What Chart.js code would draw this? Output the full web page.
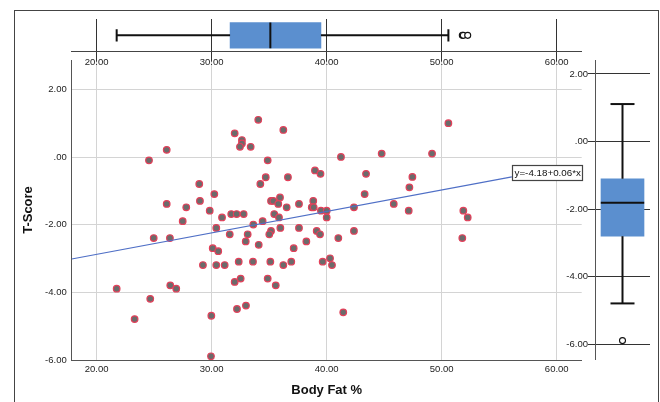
<!DOCTYPE html>
<html><head><meta charset="utf-8">
<script src="https://cdn.jsdelivr.net/npm/chart.js@4.4.1/dist/chart.umd.min.js"></script>
<style>
html,body{margin:0;padding:0;background:#fff;width:660px;height:402px;overflow:hidden;}
#frame{position:absolute;left:14px;top:10px;width:643px;height:420px;border:1px solid #444;border-bottom:none;}
canvas{position:absolute;left:0;top:0;}
</style></head><body>
<div id="frame"></div>
<canvas id="scatter" width="660" height="402"></canvas>
<canvas id="topbox" width="660" height="80"></canvas>
<canvas id="rightbox" width="660" height="402"></canvas>
<script>
// ---- data ----
const bodyFat = [34.05,32.00,36.23,32.63,32.63,32.46,33.39,26.09,24.55,34.87,38.98,39.46,34.70,36.63,34.23,28.92,30.23,28.98,35.16,35.36,
  35.94,26.09,35.79,27.79,37.59,38.83,38.70,36.52,29.83,31.70,32.17,32.78,35.44,35.85,30.90,27.48,34.43,33.62,30.40,35.97,
  37.59,35.16,39.13,31.57,33.13,35.01,39.42,24.96,26.37,32.96,38.23,34.09,30.09,37.13,30.57,32.35,33.59,35.10,36.92,29.24,
  30.40,31.13,36.23,32.00,32.52,34.87,35.57,26.40,26.92,21.74,24.66,23.30,32.20,32.98,29.97,29.94,
  41.24,44.78,49.16,50.58,43.42,47.45,47.19,43.30,45.83,38.87,42.37,39.50,40.00,40.00,47.13,51.88,52.26,42.37,41.01,51.79,
  39.65,40.29,40.46,41.44];
const tScore = [1.11,0.71,0.81,0.51,0.41,0.31,0.31,0.22,-0.09,-0.09,-0.39,-0.49,-0.59,-0.59,-0.79,-0.79,-1.09,-1.29,-1.29,-1.29,
  -1.19,-1.38,-1.38,-1.48,-1.38,-1.29,-1.48,-1.48,-1.58,-1.68,-1.68,-1.68,-1.68,-1.78,-1.78,-1.89,-1.89,-1.99,-2.09,-2.09,
  -2.09,-2.18,-2.18,-2.28,-2.28,-2.28,-2.28,-2.39,-2.39,-2.49,-2.49,-2.59,-2.69,-2.69,-2.78,-3.09,-3.09,-3.09,-3.09,-3.19,
  -3.19,-3.19,-3.19,-3.69,-3.59,-3.59,-3.79,-3.79,-3.89,-3.89,-4.19,-4.79,-4.49,-4.39,-4.69,-5.89,
  0.01,0.11,0.11,1.01,-0.49,-0.58,-0.89,-1.09,-1.38,-1.48,-1.48,-1.58,-1.58,-1.78,-1.58,-1.58,-1.78,-2.18,-2.39,-2.39,
  -3.09,-2.99,-3.19,-4.59];
const xTickValues = [20,30,40,50,60];
const xTickLabels = ['20.00','30.00','40.00','50.00','60.00'];
const yTickValues = [-6,-4,-2,0,2];
const yTickLabels = ['-6.00','-4.00','-2.00','.00','2.00'];
const fitLineX = [17.83, 56.1];
const fitLineY = [-3.01, -0.58];
const fitLabel = 'y=-4.18+0.06*x';
// box summaries: [lower whisker, Q1, median, Q3, upper whisker]
const bodyFatBox = [21.74, 31.6, 35.1, 39.5, 50.58];
const bodyFatOutliers = [51.79, 51.88, 52.26];
const tScoreBox = [-4.79, -2.8, -1.81, -1.1, 1.11];
const tScoreOutliers = [-5.89];

// ---- styles ----
const FONT = 'Liberation Sans';
const tickFont = {family: FONT, size: 9.5};
const titleFont = {family: FONT, size: 13, weight: 'bold'};
const BOX_BLUE = '#5b8fcf';
const setTicks = (vals) => (s) => { s.ticks = vals.map(v => ({value: v})); };

const eqPlugin = {id: 'eq', afterDatasetsDraw(chart) {
  const {ctx, scales: {x, y}} = chart;
  const px = x.getPixelForValue(fitLineX[1]), py = y.getPixelForValue(fitLineY[1]);
  ctx.save();
  ctx.font = '9.8px "' + FONT + '"';
  const w = Math.round(ctx.measureText(fitLabel).width + 4), h = 15;
  const left = Math.round(px) + 0.5, top = Math.round(py - 11.5) + 0.5;
  ctx.fillStyle = '#fff'; ctx.fillRect(left, top, w, h);
  ctx.strokeStyle = '#444'; ctx.lineWidth = 1.2; ctx.strokeRect(left, top, w, h);
  ctx.fillStyle = '#111'; ctx.textBaseline = 'middle'; ctx.textAlign = 'left';
  ctx.fillText(fitLabel, left + 2, top + h / 2 + 0.5);
  ctx.restore();
}};

// ---- main scatter ----
new Chart(document.getElementById('scatter'), {
  type: 'scatter',
  data: {datasets: [
    {data: fitLineX.map((x, i) => ({x, y: fitLineY[i]})), showLine: true, borderColor: '#4f6fc6', borderWidth: 1.2, pointRadius: 0},
    {data: bodyFat.map((x, i) => ({x, y: tScore[i]})), pointRadius: 3.3, pointBackgroundColor: '#6b6b6b', pointBorderColor: '#e3405a', pointBorderWidth: 1.2}
  ]},
  options: {
    responsive: false, animation: false, events: [],
    layout: {padding: {left: 0, right: 78.3, top: 60, bottom: 0}},
    plugins: {legend: {display: false}, tooltip: {enabled: false}},
    scales: {
      x: {type: 'linear', min: 17.83, max: 62.17, offset: false,
        afterBuildTicks: setTicks(xTickValues), afterFit: s => { s.height = 42; },
        grid: {color: '#d4d4d4', drawTicks: false, lineWidth: 1}, border: {color: '#555', width: 1},
        ticks: {padding: 3.3, color: '#222', font: tickFont, maxRotation: 0, autoSkip: false, callback: (v, i) => xTickLabels[i]},
        title: {display: true, text: 'Body Fat %', color: '#111', font: titleFont, padding: {top: 0, bottom: 4.2}}},
      y: {type: 'linear', min: -6, max: 2.88,
        afterBuildTicks: setTicks(yTickValues), afterFit: s => { s.width = 71.7; },
        grid: {color: '#d4d4d4', drawTicks: false, lineWidth: 1}, border: {color: '#555', width: 1},
        ticks: {padding: 5, color: '#222', font: tickFont, autoSkip: false, callback: (v, i) => yTickLabels[i]},
        title: {display: true, text: 'T-Score', color: '#111', font: titleFont, padding: {top: 20.7, bottom: 0}}}
    }
  },
  plugins: [eqPlugin]
});

// ---- top (horizontal) boxplot: cross axis in pixel units ----
const seg = (pts, w) => ({type: 'scatter', data: pts, showLine: true, borderColor: '#111', borderWidth: w, pointRadius: 0});
new Chart(document.getElementById('topbox'), {
  type: 'scatter',
  data: {datasets: [
    seg([{x: bodyFatBox[2], y: -12.8}, {x: bodyFatBox[2], y: 12.8}], 2),
    seg([{x: bodyFatBox[0], y: 0}, {x: bodyFatBox[1], y: 0}], 2),
    seg([{x: bodyFatBox[3], y: 0}, {x: bodyFatBox[4], y: 0}], 2),
    seg([{x: bodyFatBox[0], y: -6.2}, {x: bodyFatBox[0], y: 6.2}], 2),
    seg([{x: bodyFatBox[4], y: -6.2}, {x: bodyFatBox[4], y: 6.2}], 2),
    {type: 'scatter', data: bodyFatOutliers.map(v => ({x: v, y: 0})), pointRadius: 3, pointBackgroundColor: '#fff', pointBorderColor: '#111', pointBorderWidth: 1.1},
    {type: 'bar', indexAxis: 'y', grouped: false, data: [{x: [bodyFatBox[1], bodyFatBox[3]], y: 0}], backgroundColor: BOX_BLUE, borderWidth: 0, barThickness: 25.6}
  ]},
  options: {
    responsive: false, animation: false, events: [],
    layout: {padding: {left: 71.7, right: 78.3, top: 19, bottom: 0}},
    plugins: {legend: {display: false}, tooltip: {enabled: false}},
    scales: {
      x: {type: 'linear', min: 17.83, max: 62.17, offset: false,
        afterBuildTicks: setTicks(xTickValues), afterFit: s => { s.height = 28.3; },
        grid: {color: '#333', drawTicks: true, tickLength: 10, lineWidth: 1, offset: false}, border: {color: '#444', width: 1},
        ticks: {padding: -5.4, color: '#222', font: tickFont, maxRotation: 0, autoSkip: false, callback: (v, i) => xTickLabels[i]}},
      y: {type: 'linear', display: false, min: -16.35, max: 16.35, offset: false}
    }
  }
});

// ---- right (vertical) boxplot: cross axis in pixel units ----
new Chart(document.getElementById('rightbox'), {
  type: 'scatter',
  data: {datasets: [
    seg([{x: -21.7, y: tScoreBox[2]}, {x: 21.7, y: tScoreBox[2]}], 2),
    seg([{x: 0, y: tScoreBox[0]}, {x: 0, y: tScoreBox[1]}], 2),
    seg([{x: 0, y: tScoreBox[3]}, {x: 0, y: tScoreBox[4]}], 2),
    seg([{x: -12, y: tScoreBox[0]}, {x: 12, y: tScoreBox[0]}], 2),
    seg([{x: -12, y: tScoreBox[4]}, {x: 12, y: tScoreBox[4]}], 2),
    {type: 'scatter', data: tScoreOutliers.map(v => ({x: 0, y: v})), pointRadius: 3, pointBackgroundColor: '#fff', pointBorderColor: '#111', pointBorderWidth: 1.1},
    {type: 'bar', grouped: false, data: [{x: 0, y: [tScoreBox[1], tScoreBox[3]]}], backgroundColor: BOX_BLUE, borderWidth: 0, barThickness: 43}
  ]},
  options: {
    responsive: false, animation: false, events: [],
    layout: {padding: {left: 560, right: 10, top: 60, bottom: 43}},
    plugins: {legend: {display: false}, tooltip: {enabled: false}},
    scales: {
      x: {type: 'linear', display: false, min: -27.5, max: 27.5, offset: false},
      y: {type: 'linear', min: -6.435, max: 2.414,
        afterBuildTicks: setTicks(yTickValues), afterFit: s => { s.width = 35; },
        grid: {color: '#333', drawTicks: true, tickLength: 7, lineWidth: 1}, border: {color: '#555', width: 1},
        ticks: {padding: 0, color: '#222', font: tickFont, autoSkip: false, callback: (v, i) => yTickLabels[i]}}
    }
  }
});
</script>
</body></html>
